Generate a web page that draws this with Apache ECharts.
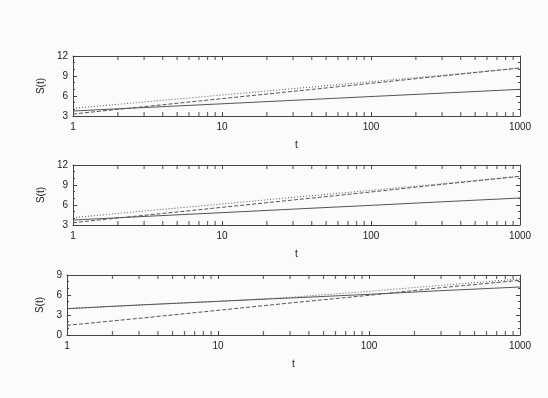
<!DOCTYPE html>
<html><head><meta charset="utf-8">
<script src="https://cdn.jsdelivr.net/npm/echarts@6/dist/echarts.min.js"></script>
<style>html,body{margin:0;padding:0;background:#fbfbfb}#c{width:548px;height:398px}</style>
</head><body><div id="c"></div>
<script>
// data
const t = [1, 3, 10, 30, 100, 300, 1000];
const p1Solid  = [3.75, 4.27, 4.83, 5.35, 5.92, 6.43, 7.0];
const p1Dashed = [3.3, 4.4, 5.6, 6.7, 7.9, 9.0, 10.2];
const p1Dotted = [4.15, 5.1, 6.15, 7.1, 8.15, 9.1, 10.2];
const p2Solid  = [3.75, 4.28, 4.85, 5.38, 5.95, 6.48, 7.05];
const p2Dashed = [3.35, 4.45, 5.65, 6.75, 7.95, 9.1, 10.3];
const p2Dotted = [4.1, 5.1, 6.15, 7.15, 8.2, 9.2, 10.3];
const p3Solid  = [3.95, 4.5, 5.05, 5.55, 6.1, 6.65, 7.2];
const p3Dashed = [1.45, 2.5, 3.7, 4.8, 5.95, 7.1, 8.2];
const p3Dotted = [3.95, 4.5, 5.05, 5.65, 6.55, 7.45, 8.4];
const xTicks = [1, 10, 100, 1000];
const minorT = [2,3,4,5,6,7,8,9,20,30,40,50,60,70,80,90,200,300,400,500,600,700,800,900];
const yRanges = [[3, 12], [3, 12], [0, 9]];
const xLabel = 't';
const yLabel = 'S(t)';

const frame = '#444';
const lineCol = '#555';
const textCol = '#222';
const font = 'Liberation Sans';

const grids = [
  {left: 73, right: 28, top: 56, height: 60},
  {left: 73, right: 28, top: 165, height: 60},
  {left: 67, right: 28, top: 275, height: 60}
];
const yNameGap = [27, 27, 20];

const xAxes = [], yAxes = [], series = [];
const panels = [[p1Solid, p1Dashed, p1Dotted], [p2Solid, p2Dashed, p2Dotted], [p3Solid, p3Dashed, p3Dotted]];
const styles = ['solid', [4, 2], [1, 2]];

grids.forEach((g, i) => {
  const ymin = yRanges[i][0], ymax = yRanges[i][1];
  xAxes.push({
    type: 'log', logBase: 10, gridIndex: i, min: 1, max: 1000, position: 'bottom',
    name: xLabel, nameLocation: 'middle', nameGap: 24,
    nameTextStyle: {color: textCol, fontFamily: font, fontSize: 10},
    axisLine: {show: true, onZero: false, lineStyle: {color: frame, width: 1}},
    axisTick: {show: true, inside: true, length: 4, lineStyle: {color: frame}},
    axisLabel: {color: textCol, fontFamily: font, fontSize: 10, margin: 6,
      formatter: v => String(Math.round(v))},
    splitLine: {show: false}
  });
  xAxes.push({
    type: 'log', logBase: 10, gridIndex: i, min: 1, max: 1000, position: 'top',
    axisLine: {show: true, onZero: false, lineStyle: {color: frame, width: 1}},
    axisTick: {show: true, inside: true, length: 4, lineStyle: {color: frame}},
    axisLabel: {show: false}, splitLine: {show: false}
  });
  yAxes.push({
    type: 'value', gridIndex: i, min: ymin, max: ymax, interval: 3, position: 'left',
    name: yLabel, nameLocation: 'middle', nameGap: yNameGap[i], nameRotate: 90,
    nameTextStyle: {color: textCol, fontFamily: font, fontSize: 10},
    axisLine: {show: true, onZero: false, lineStyle: {color: frame, width: 1}},
    axisTick: {show: true, inside: true, length: 4, lineStyle: {color: frame}},
    minorTick: {show: true, splitNumber: 3, length: 2, lineStyle: {color: frame}},
    axisLabel: {color: textCol, fontFamily: font, fontSize: 10, margin: 5},
    splitLine: {show: false}, minorSplitLine: {show: false}
  });
  yAxes.push({
    type: 'value', gridIndex: i, min: ymin, max: ymax, interval: 3, position: 'right',
    axisLine: {show: true, onZero: false, lineStyle: {color: frame, width: 1}},
    axisTick: {show: true, inside: true, length: 4, lineStyle: {color: frame}},
    minorTick: {show: true, splitNumber: 3, length: 2, lineStyle: {color: frame}},
    axisLabel: {show: false}, splitLine: {show: false}, minorSplitLine: {show: false}
  });
  panels[i].forEach((vals, k) => {
    series.push({
      type: 'line', xAxisIndex: 2 * i, yAxisIndex: 2 * i, showSymbol: false, symbol: 'none',
      data: t.map((x, j) => [x, vals[j]]),
      lineStyle: {color: lineCol, width: 1, type: styles[k]}, silent: true, animation: false, z: 3
    });
  });
  // minor log ticks, inside the frame on bottom and top
  [[ymin, -2], [ymax, 2]].forEach(([yv, off]) => {
    series.push({
      type: 'scatter', xAxisIndex: 2 * i, yAxisIndex: 2 * i, silent: true, animation: false,
      clip: false, z: 5, symbol: 'rect', symbolSize: [1.2, 4], symbolOffset: [0, off],
      itemStyle: {color: frame},
      data: minorT.map(x => [x, yv])
    });
  });
});

const chart = echarts.init(document.getElementById('c'), null, {renderer: 'canvas'});
chart.setOption({
  backgroundColor: '#fbfbfb',
  animation: false,
  grid: grids,
  xAxis: xAxes,
  yAxis: yAxes,
  series: series
});
</script></body></html>
